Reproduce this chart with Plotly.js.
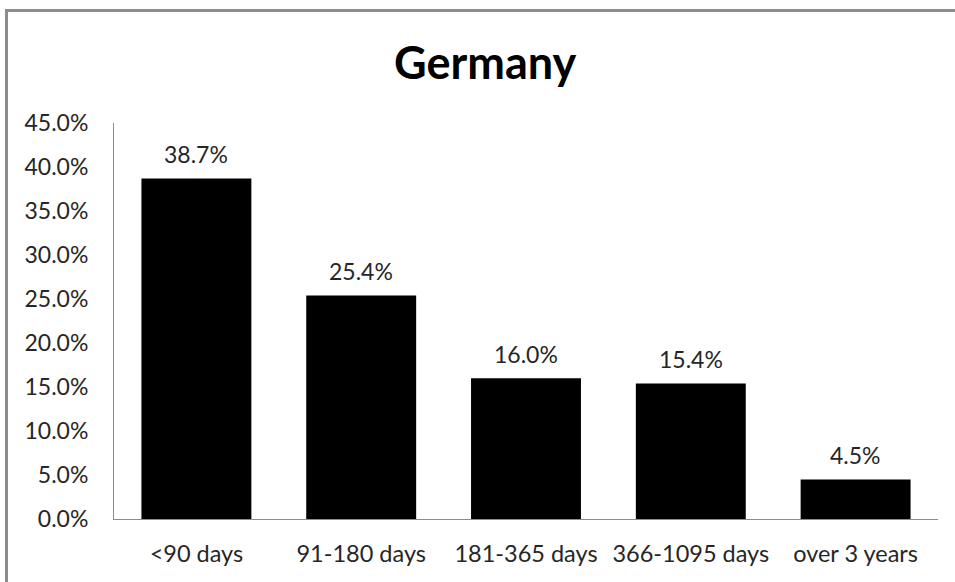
<!DOCTYPE html>
<html>
<head>
<meta charset="utf-8">
<script src="https://cdn.plot.ly/plotly-3.0.1.min.js"></script>
<style>
  html, body { margin: 0; padding: 0; background: #fff; }
  #wrap { position: relative; width: 955px; height: 582px; overflow: hidden; }
  #chart { position: absolute; left: 0; top: 0; width: 955px; height: 582px; }
  #frame { position: absolute; left: 5px; top: 9px; width: 960px; height: 590px;
           border-top: 3px solid #8c8c8c; border-left: 3px solid #8c8c8c; pointer-events: none; }
</style>
</head>
<body>
<div id="wrap">
  <div id="chart"></div>
  <div id="frame"></div>
</div>
<script>
// Share of cases by duration
const categories = ['<90 days', '91-180 days', '181-365 days', '366-1095 days', 'over 3 years'];
const shares = [38.7, 25.4, 16.0, 15.4, 4.5];
const yTicks = [0, 5, 10, 15, 20, 25, 30, 35, 40, 45];

const font = 'Lato, "Open Sans", sans-serif';
const textColor = '#262626';

const trace = {
  type: 'bar',
  x: categories,
  y: shares,
  marker: { color: '#000000', line: { width: 0 } },
  hoverinfo: 'x+y'
};

const labels = categories.map((c, i) => ({
  x: c,
  y: shares[i],
  xref: 'x',
  yref: 'y',
  text: shares[i].toFixed(1) + '%',
  showarrow: false,
  yanchor: 'bottom',
  yshift: 8,
  font: { family: font, size: 23, color: textColor }
}));

const layout = {
  width: 955,
  height: 582,
  margin: { l: 114, r: 17, t: 123, b: 63, pad: 0 },
  paper_bgcolor: '#ffffff',
  plot_bgcolor: '#ffffff',
  showlegend: false,
  bargap: 0.333,
  title: {
    text: '<b>Germany</b>',
    font: { family: font, size: 45, color: '#000000' },
    xref: 'container',
    yref: 'container',
    x: 0.508,
    y: 0.892,
    xanchor: 'center',
    yanchor: 'middle'
  },
  xaxis: {
    type: 'category',
    showgrid: false,
    zeroline: false,
    showline: true,
    linecolor: '#8c8c8c',
    linewidth: 1,
    ticks: '',
    ticklabelstandoff: 14,
    tickfont: { family: font, size: 23.5, color: textColor },
    fixedrange: true
  },
  yaxis: {
    range: [0, 45],
    tickvals: yTicks,
    ticktext: yTicks.map(v => v.toFixed(1) + '%'),
    showgrid: false,
    zeroline: false,
    showline: true,
    linecolor: '#8c8c8c',
    linewidth: 1,
    ticks: '',
    ticklabelstandoff: 20,
    tickfont: { family: font, size: 23, color: textColor },
    fixedrange: true
  },
  annotations: labels
};

Plotly.newPlot('chart', [trace], layout, { displayModeBar: false, staticPlot: true });
</script>
</body>
</html>
